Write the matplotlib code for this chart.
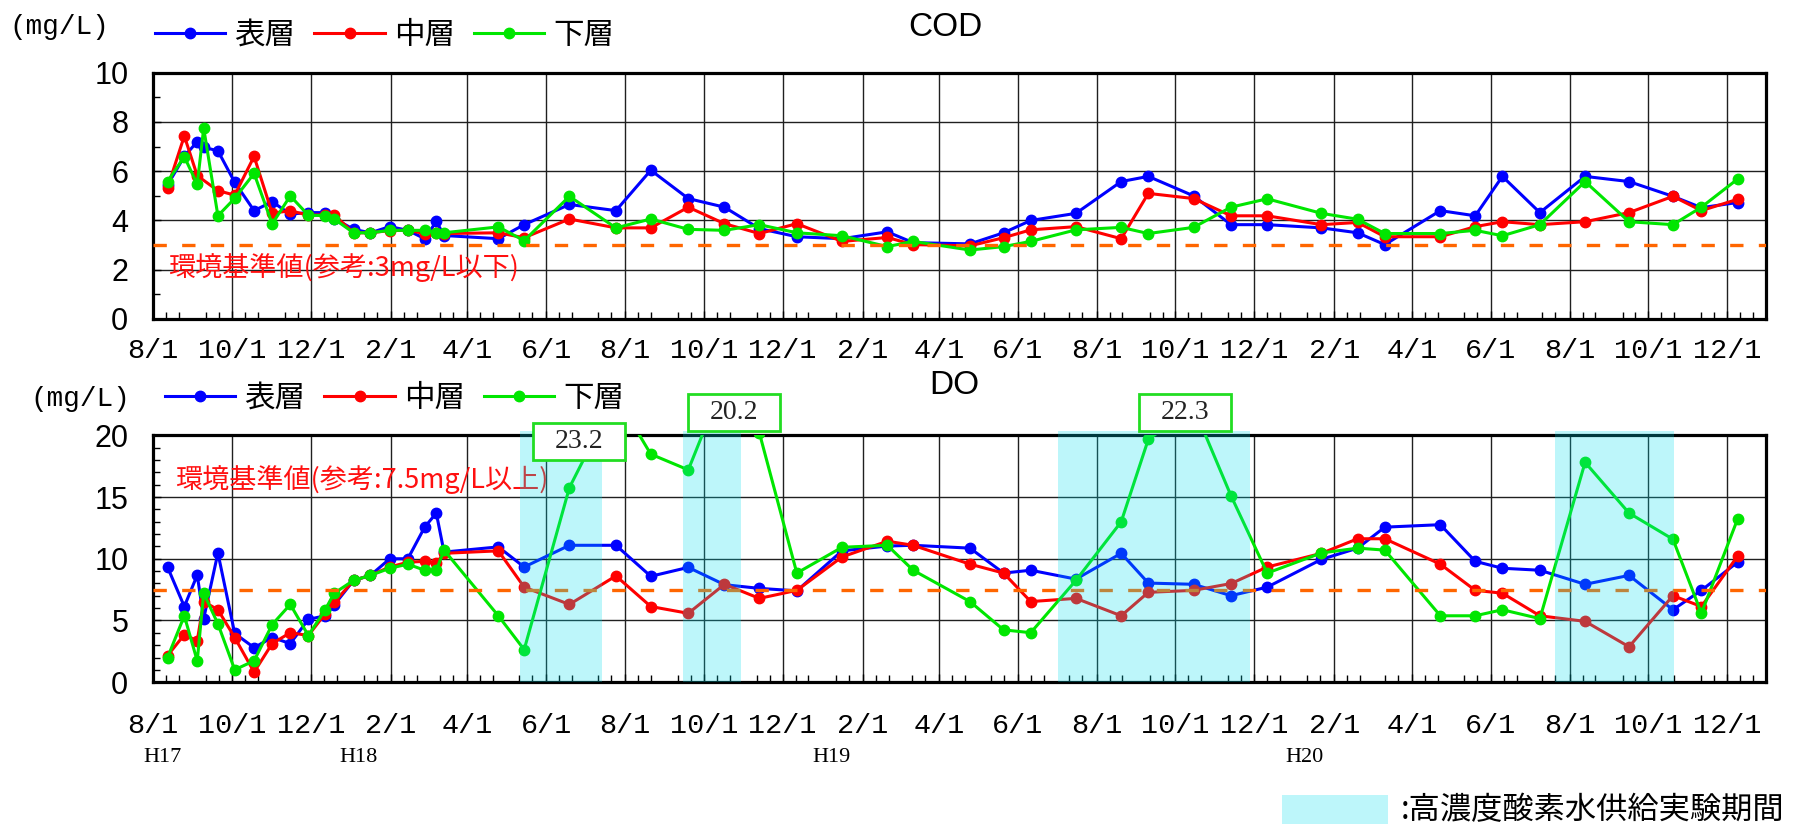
import numpy as np
import pandas as pd
import matplotlib
matplotlib.use("Agg")
import matplotlib.pyplot as plt
import matplotlib.dates as mdates
import matplotlib.font_manager as fm
import matplotlib.transforms as mtransforms
from matplotlib.patches import Rectangle
from matplotlib.lines import Line2D
from matplotlib.ticker import MultipleLocator, FuncFormatter

# sampling dates, H17.8 - H20.12
dates = pd.to_datetime([
    "2005-08-12", "2005-08-25", "2005-09-04", "2005-09-09", "2005-09-20",
    "2005-10-03", "2005-10-18", "2005-11-01", "2005-11-15", "2005-11-29",
    "2005-12-12", "2005-12-19", "2006-01-03", "2006-01-16", "2006-01-31",
    "2006-02-14", "2006-02-27", "2006-03-08", "2006-03-14", "2006-04-25",
    "2006-05-15", "2006-06-19", "2006-07-25", "2006-08-21", "2006-09-19",
    "2006-10-17", "2006-11-13", "2006-12-12", "2007-01-16", "2007-02-20",
    "2007-03-12", "2007-04-25", "2007-05-21", "2007-06-11", "2007-07-16",
    "2007-08-20", "2007-09-10", "2007-10-15", "2007-11-13", "2007-12-11",
    "2008-01-22", "2008-02-19", "2008-03-11", "2008-04-23", "2008-05-20",
    "2008-06-10", "2008-07-09", "2008-08-13", "2008-09-16", "2008-10-20",
    "2008-11-11", "2008-12-09",
])

cod_surface = [5.44, 6.6, 7.2, 6.97, 6.83, 5.55, 4.4, 4.76, 4.26, 4.32,
               4.32, 4.08, 3.64, 3.5, 3.75, 3.6, 3.26, 3.96, 3.39, 3.26,
               3.83, 4.65, 4.4, 6.04, 4.89, 4.54, 3.67, 3.34, 3.26, 3.54,
               3.1, 3.05, 3.5, 4.0, 4.29, 5.58, 5.79, 5.0, 3.83, 3.83,
               3.7, 3.5, 3.02, 4.4, 4.19, 5.79, 4.32, 5.79, 5.58, 4.98,
               4.52, 4.73]
cod_middle = [5.33, 7.43, 5.82, np.nan, 5.21, 5.03, 6.6, 4.29, 4.4, 4.21,
              4.24, 4.22, 3.5, 3.5, 3.59, 3.6, 3.47, 3.5, 3.47, 3.5,
              3.3, 4.06, 3.7, 3.7, 4.54, 3.87, 3.47, 3.87, 3.15, 3.31,
              3.02, 2.97, 3.3, 3.62, 3.75, 3.26, 5.1, 4.89, 4.19, 4.19,
              3.83, 3.92, 3.34, 3.34, 3.75, 3.95, 3.83, 3.95, 4.32, 4.98,
              4.4, 4.86]
cod_bottom = [5.58, 6.59, 5.47, 7.75, 4.19, 4.9, 5.91, 3.86, 5.0, 4.21,
              4.2, 4.06, 3.5, 3.5, 3.6, 3.6, 3.6, 3.5, 3.5, 3.74,
              3.18, 4.98, 3.7, 4.06, 3.64, 3.6, 3.83, 3.5, 3.38, 2.94,
              3.15, 2.8, 2.94, 3.15, 3.62, 3.72, 3.47, 3.72, 4.54, 4.88,
              4.29, 4.05, 3.47, 3.47, 3.6, 3.38, 3.83, 5.58, 3.95, 3.83,
              4.54, 5.68]

do_surface = [9.33, 6.13, 8.68, 5.15, 10.47, 3.95, 2.8, 3.62, 3.13, 5.09,
              5.38, 6.26, 8.25, 8.65, 10.0, 10.0, 12.56, 13.7, 10.54, 10.96,
              9.33, 11.09, 11.09, 8.58, 9.3, 7.9, 7.6, 7.4, 10.64, 11.03,
              11.09, 10.86, 8.84, 9.07, 8.35, 10.44, 8.03, 7.93, 7.01, 7.7,
              9.95, 10.86, 12.56, 12.76, 9.79, 9.23, 9.07, 7.93, 8.65, 5.87,
              7.44, 9.72]
do_middle = [2.15, 3.85, 3.36, 6.53, 5.87, 3.62, 0.82, 3.13, 4.01, 3.78,
             5.55, 6.46, 8.25, 8.65, 9.33, 9.72, 9.79, 9.66, 10.44, 10.64,
             7.7, 6.3, 8.61, 6.13, 5.58, 7.93, 6.79, 7.44, 10.15, 11.42,
             11.09, 9.56, 8.84, 6.53, 6.79, 5.38, 7.28, 7.44, 7.99, 9.33,
             10.44, 11.62, 11.62, 9.56, 7.44, 7.21, 5.38, 4.93, 2.87, 7.01,
             6.13, 10.21]
do_bottom = [1.99, 5.38, 1.73, 7.21, 4.73, 1.01, 1.73, 4.67, 6.3, 3.78,
             5.87, 7.21, 8.25, 8.65, 9.23, 9.56, 9.07, 9.07, 10.7, 5.38,
             2.64, 15.76, 23.2, 18.47, 17.2, 24.5, 20.2, 8.84, 10.93, 11.09,
             9.07, 6.53, 4.24, 4.01, 8.25, 12.99, 19.67, 22.3, 15.1, 8.84,
             10.47, 10.86, 10.7, 5.38, 5.38, 5.87, 5.15, 17.81, 13.7, 11.58,
             5.58, 13.21]

layer_names = ["表層", "中層", "下層"]
layer_colors = ["#0000ff", "#ff0000", "#00e600"]

cod_standard = 3.0
do_standard = 7.5

# high-concentration oxygen water supply test periods
supply_start = pd.to_datetime(["2006-05-12", "2006-09-15", "2007-07-02", "2008-07-21"])
supply_end = pd.to_datetime(["2006-07-14", "2006-10-30", "2007-11-28", "2008-10-21"])

# off-scale bottom-layer DO values shown in boxes
peak_dates = pd.to_datetime(["2006-07-25", "2006-11-13", "2007-10-15"])

era_labels = ["H17", "H18", "H19", "H20"]
era_dates = pd.to_datetime(["2005-08-08", "2006-01-07", "2007-01-08", "2008-01-09"])

available = {f.name for f in fm.fontManager.ttflist}


def pick(*names):
    for n in names:
        if n in available:
            return n
    return "DejaVu Sans"


MONO = pick("Noto Sans Mono CJK JP", "Liberation Mono", "DejaVu Sans Mono")
NARROW = pick("Liberation Sans Narrow", "Liberation Sans", "DejaVu Sans")
SERIF = pick("Liberation Serif", "DejaVu Serif")
CJK = ["Noto Sans CJK JP", "DejaVu Sans"]
SHADE = "#00e0ef"

W, H = 1796, 824
fig = plt.figure(figsize=(W / 100, H / 100), dpi=100)
ax1 = fig.add_axes([153.3 / W, 1 - 319 / H, 1612.7 / W, 246.3 / H])
ax2 = fig.add_axes([153.3 / W, 1 - 682.2 / H, 1612.7 / W, 246.9 / H])


def plot_layers(ax, series):
    for vals, name, color, z in zip(series, layer_names, layer_colors, (3, 4, 5)):
        v = np.asarray(vals, float)
        ok = ~np.isnan(v)
        ax.plot(dates[ok], v[ok], color=color, lw=2.2, marker="o", ms=7.5,
                zorder=z, label=name)


def style(ax, ymax, major, xpad):
    ax.set_xlim(pd.Timestamp("2005-08-01"), pd.Timestamp("2008-12-31"))
    ax.set_ylim(0, ymax)
    ax.xaxis.set_major_locator(mdates.MonthLocator(bymonth=[2, 4, 6, 8, 10, 12]))
    ax.xaxis.set_major_formatter(
        FuncFormatter(lambda x, pos: f"{mdates.num2date(x).month}/1"))
    ax.xaxis.set_minor_locator(mdates.DayLocator(bymonthday=[11, 21]))
    ax.yaxis.set_major_locator(MultipleLocator(major))
    ax.yaxis.set_minor_locator(MultipleLocator(1))
    ax.grid(True, which="major", color="#202020", lw=1.0)
    ax.set_axisbelow(True)
    ax.tick_params(which="both", direction="in", top=False, right=False)
    ax.tick_params(which="major", length=6, width=1)
    ax.tick_params(which="minor", length=5, width=1)
    ax.tick_params(axis="x", which="major", pad=xpad, labelsize=20.5,
                   labelfontfamily=MONO)
    ax.tick_params(axis="y", which="major", pad=18, labelsize=22,
                   labelfontfamily=NARROW)
    for s in ax.spines.values():
        s.set_linewidth(2.3)


plot_layers(ax1, (cod_surface, cod_middle, cod_bottom))
plot_layers(ax2, (do_surface, do_middle, do_bottom))
style(ax1, 10, 2, 14)
style(ax2, 20, 5, 22.5)

# environmental standard lines
ax1.axhline(cod_standard, color="#ff6600", lw=2.4, dashes=(4.0, 4.6), zorder=6)
ax2.axhline(do_standard, color="#ff6600", lw=2.4, dashes=(4.0, 4.6), zorder=6)
ax1.text(0.0091, 0.207, f"環境基準値(参考:{cod_standard:g}mg/L以下)",
         transform=ax1.transAxes, ha="left", va="center", color="#ff1010",
         family=CJK, fontsize=19.5)
ax2.text(0.0135, 0.819, f"環境基準値(参考:{do_standard:g}mg/L以上)",
         transform=ax2.transAxes, ha="left", va="center", color="#ff1010",
         family=CJK, fontsize=19.5)

# supply test periods shaded over the DO panel
for s, e in zip(supply_start, supply_end):
    span = ax2.axvspan(s, e, ymin=0, ymax=1.018, facecolor=SHADE,
                       alpha=0.26, lw=0, zorder=7)
    span.set_clip_on(False)

# value boxes for off-scale points
trans2 = mtransforms.blended_transform_factory(ax2.transData, ax2.transAxes)
box_left = pd.to_datetime(["2006-05-22", "2006-09-19", "2007-09-03"])
box_bottom = [0.900, 1.019, 1.019]
date_list = list(dates)
for d, left, b in zip(peak_dates, box_left, box_bottom):
    v = do_bottom[date_list.index(d)]
    x0 = mdates.date2num(left)
    ax2.add_patch(Rectangle((x0, b), 71, 0.148, transform=trans2,
                            facecolor="white", edgecolor="#22dd22", lw=2,
                            clip_on=False, zorder=9))
    ax2.text(x0 + 35.5, b + 0.074, f"{v:.1f}", transform=trans2, ha="center",
             va="center", family=SERIF, fontsize=20, color="#222222", zorder=10)

# era labels under the DO axis
for lab, d in zip(era_labels, era_dates):
    ax2.text(d, -0.303, lab, transform=trans2, ha="center", va="center",
             family=SERIF, fontsize=16)

# legends
handles = [Line2D([], [], color=c, lw=2.2, marker="o", ms=7.5) for c in layer_colors]
for ax, (lx, ly) in ((ax1, (155, 35)), (ax2, (165, 398.5))):
    ax.legend(handles, layer_names, loc="center left",
              bbox_to_anchor=(lx / W, 1 - ly / H), bbox_transform=fig.transFigure,
              ncol=3, frameon=False, borderpad=0, borderaxespad=0,
              handlelength=2.3, handletextpad=0.3, columnspacing=0.62,
              prop=fm.FontProperties(family=CJK, size=22))

fig.text(59 / W, 1 - 27 / H, "(mg/L)", ha="center", va="center", family=MONO, fontsize=20)
fig.text(80 / W, 1 - 398.5 / H, "(mg/L)", ha="center", va="center", family=MONO, fontsize=20)
fig.text(945 / W, 1 - 28 / H, "COD", ha="center", va="center", family=NARROW, fontsize=24)
fig.text(954 / W, 1 - 386 / H, "DO", ha="center", va="center", family=NARROW, fontsize=24)

# key for the shaded periods
fig.patches.append(Rectangle((1282 / W, 0), 106 / W, 29 / H, transform=fig.transFigure,
                             facecolor=SHADE, alpha=0.26, lw=0))
fig.text(1401 / W, 1 - 810 / H, ":高濃度酸素水供給実験期間", ha="left", va="center",
         family=CJK, fontsize=22.5)

fig.savefig("out.png", dpi=100)
